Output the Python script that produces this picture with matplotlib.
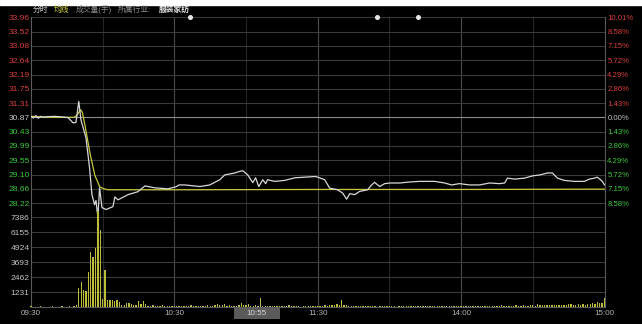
import numpy as np
import matplotlib.pyplot as plt
from matplotlib.patches import Rectangle

plt.rcParams['font.family'] = ['Liberation Sans', 'Noto Sans CJK SC', 'DejaVu Sans']

# 分时价格 (分钟, 价格)
price_min = [0, 1, 2, 3, 4, 5, 7, 10, 13, 15.5, 17.6, 18.8, 20, 20.9, 23, 24.5, 25.5, 26.6, 27.2,
             27.6, 28, 28.7, 29.7, 31.4, 34.3, 35.1, 36.4, 40.6, 44.7, 47.7, 51.8, 57.3, 60.6, 62,
             64.4, 70.7, 74.8, 79, 81.1, 85.3, 87.4, 88.6, 90.7, 92.8, 94, 95.3, 97, 98.2, 99, 102,
             106.2, 110.4, 114.5, 119, 120, 122.9, 125, 128.3, 130.4, 132.1, 133.4, 135.5, 137.5,
             140.9, 142.5, 143.8, 145.9, 148, 150.1, 154.3, 158.4, 162.6, 168.9, 173.1, 176, 179.3,
             183.5, 187.7, 191.9, 196.1, 198.2, 199.4, 202.3, 206.5, 209.9, 212.9, 216.2, 218.2,
             220.3, 223.2, 227.4, 231.6, 233.7, 235.8, 237, 239.1, 240]
price_val = [30.89, 30.85, 30.92, 30.84, 30.90, 30.87, 30.89, 30.90, 30.88, 30.86, 30.70, 30.71,
             31.36, 30.79, 30.24, 29.31, 28.48, 28.17, 28.30, 28.02, 27.80, 28.69, 28.08, 28.02,
             28.11, 28.41, 28.32, 28.48, 28.57, 28.75, 28.69, 28.66, 28.72, 28.78, 28.78, 28.73,
             28.78, 28.94, 29.09, 29.15, 29.20, 29.22, 29.09, 28.85, 29.00, 28.73, 28.94, 28.82,
             28.94, 28.89, 28.92, 29.00, 29.02, 29.04, 29.02, 28.94, 28.68, 28.63, 28.53, 28.34,
             28.51, 28.48, 28.58, 28.63, 28.78, 28.86, 28.73, 28.82, 28.84, 28.84, 28.87, 28.89,
             28.89, 28.84, 28.78, 28.82, 28.78, 28.78, 28.84, 28.82, 28.84, 28.99, 28.96, 28.99,
             29.06, 29.09, 29.15, 29.15, 28.99, 28.92, 28.89, 28.89, 28.96, 28.99, 29.02, 28.89,
             28.78]

# 均线
avg_min = [0, 5, 10, 15, 18, 19, 20.8, 21.5, 22.6, 24.6, 26.7, 28.8, 30.5, 32.2, 40, 60, 120, 180, 240]
avg_val = [30.90, 30.88, 30.87, 30.87, 30.87, 30.92, 31.10, 31.02, 30.62, 29.79, 29.08, 28.72,
           28.66, 28.63, 28.63, 28.63, 28.64, 28.64, 28.65]

# 成交量 (手), 每分钟
vol = [80, 40, 60, 50, 70, 60, 40, 60, 50, 70, 60, 40, 60, 70, 50, 60, 70, 60, 90, 150,
       1580, 2060, 1440, 1330, 2880, 4500, 4135, 4826, 7900, 6350, 660, 3100, 580, 600, 600, 500, 580, 415, 150, 200,
       390, 330, 250, 150, 200, 500, 300, 500, 250, 120, 100, 150, 90, 120, 80, 150, 100, 90, 130, 80,
       110, 90, 140, 80, 120, 100, 70, 150, 90, 110, 80, 120, 100, 90, 150, 130, 110, 160, 250, 200,
       180, 280, 120, 150, 90, 130, 110, 200, 330, 180, 150, 280, 130, 110, 190, 120, 750, 100, 90, 120,
       80, 130, 90, 110, 70, 120, 100, 90, 150, 100, 80, 120, 90, 60, 110, 80, 100, 90, 70, 110,
       90, 120, 80, 150, 110, 200, 160, 220, 300, 180, 580, 200, 150, 120, 90, 110, 80, 100, 120, 90,
       70, 100, 80, 110, 90, 60, 100, 80, 90, 110, 70, 100, 80, 60, 90, 110, 80, 70, 100, 90,
       80, 110, 90, 70, 100, 120, 90, 80, 110, 90, 100, 70, 80, 110, 90, 100, 80, 120, 90, 100,
       110, 90, 120, 80, 100, 130, 90, 110, 100, 120, 90, 140, 110, 100, 130, 120, 100, 150, 110, 130,
       120, 140, 110, 150, 130, 120, 160, 140, 130, 150, 170, 140, 250, 160, 180, 150, 200, 170, 190, 210,
       180, 200, 170, 220, 190, 240, 280, 210, 190, 230, 200, 250, 220, 260, 240, 380, 300, 420, 330, 350,
       750]

event_min = [66.5, 145, 162]

pre_close = 30.87
price_ticks = [33.96, 33.52, 33.08, 32.64, 32.19, 31.75, 31.31, 30.87,
               30.43, 29.99, 29.55, 29.10, 28.66, 28.22]
pct_labels = ['10.01%', '8.58%', '7.15%', '5.72%', '4.29%', '2.86%', '1.43%', '0.00%',
              '1.43%', '2.86%', '4.29%', '5.72%', '7.15%', '8.58%']
vol_ticks = [7386, 6155, 4924, 3693, 2462, 1231]
time_pos = [0, 60, 120, 180, 240]
time_labels = ['09:30', '10:30', '11:30', '14:00', '15:00']
cursor_min = 85  # 10:55

RED = '#d8403c'
GREEN = '#3cc83c'
GREY = '#c4c4c4'

W, H = 642, 324
fig = plt.figure(figsize=(W / 100, H / 100), dpi=100, facecolor='black')
left, right = 31, 604.5
ax_p = fig.add_axes([left / W, (H - 217.3) / H, (right - left) / W, 200 / H], facecolor='black')
ax_v = fig.add_axes([left / W, (H - 307.3) / H, (right - left) / W, 90 / H], facecolor='black')

for ax in (ax_p, ax_v):
    ax.set_xlim(0, 240)
    for s in ax.spines.values():
        s.set_color('#5a5a5a')
        s.set_linewidth(0.8)
    ax.spines['top'].set_visible(False)
    for m in (30, 90, 150, 210):
        ax.axvline(m, color='#262626', lw=0.8, zorder=0)
    for m in (60, 120, 180):
        ax.axvline(m, color='#4c4c4c', lw=0.8, zorder=0)
    ax.set_xticks([])
ax_p.spines['bottom'].set_visible(False)

# 价格区
ax_p.set_ylim(pre_close * (1 - 0.1001), price_ticks[0])
for p in price_ticks:
    ax_p.axhline(p, color='#8c8c8c' if p == pre_close else '#3a3a3a', lw=0.8, zorder=0)
ax_p.plot(avg_min, avg_val, color='#c8c83c', lw=0.9, zorder=3)
ax_p.plot(price_min, price_val, color='#d8d8d8', lw=0.9, zorder=4)
ax_p.plot(event_min, [price_ticks[0]] * len(event_min), 'o', color='#e6e6e6',
          ms=2.6, clip_on=False, zorder=5)

ax_p.set_yticks(price_ticks)
ax_p.set_yticklabels([f'{p:.2f}' for p in price_ticks], fontsize=6.1)
ax_p.tick_params(axis='y', length=0, pad=1)
for lab, p in zip(ax_p.get_yticklabels(), price_ticks):
    lab.set_color(RED if p > pre_close else (GREEN if p < pre_close else GREY))

ax_r = ax_p.twinx()
ax_r.set_ylim(ax_p.get_ylim())
ax_r.set_yticks(price_ticks)
ax_r.set_yticklabels(pct_labels, fontsize=5.6)
ax_r.tick_params(axis='y', length=0, pad=2)
for s in ax_r.spines.values():
    s.set_visible(False)
for lab, p in zip(ax_r.get_yticklabels(), price_ticks):
    lab.set_color(RED if p > pre_close else (GREEN if p < pre_close else GREY))

# 成交量区
ax_v.set_ylim(0, vol_ticks[0])
for v in vol_ticks:
    ax_v.axhline(v, color='#3a3a3a', lw=0.8, zorder=0)
ax_v.bar(np.arange(len(vol)), vol, width=0.55, color='#bcbc3a', clip_on=False, zorder=3)
ax_v.set_yticks(vol_ticks)
ax_v.set_yticklabels([str(v) for v in vol_ticks], fontsize=6.1, color=GREY)
ax_v.tick_params(axis='y', length=0, pad=1)

ax_v.set_xticks(time_pos)
ax_v.set_xticklabels(time_labels, fontsize=5.8, color='#b4b4b4')
ax_v.tick_params(axis='x', length=0, pad=2)

# 十字光标时间
xt = ax_v.get_xaxis_transform()
ax_v.add_patch(Rectangle((cursor_min, -0.01), 19, -0.125, transform=xt,
                         facecolor='#5a5a5a', edgecolor='none', clip_on=False, zorder=4))
ax_v.text(cursor_min + 9.5, -0.072, '10:55', transform=xt, ha='center', va='center',
          fontsize=5.8, color='#d8d8d8', zorder=5)

# 顶部白边和标题栏
fig.patches.append(Rectangle((0, 1 - 5 / H), 1, 5 / H, transform=fig.transFigure,
                             color='white', zorder=0))
hy = 1 - 10 / H
fig.text(33 / W, hy, '分时', fontsize=5.6, color='#d2d2d2', va='center')
fig.text(54 / W, hy, '均线', fontsize=5.6, color='#d2d23c', va='center')
fig.text(76 / W, hy, '成交量(手)', fontsize=5.6, color='#8c8c8c', va='center')
fig.text(118 / W, hy, '所属行业:', fontsize=5.6, color='#8c8c8c', va='center')
fig.text(159 / W, hy, '服装家纺', fontsize=5.6, color='#e8e8e8', va='center', fontweight='bold')

fig.savefig('out.png', dpi=100, facecolor='black')
